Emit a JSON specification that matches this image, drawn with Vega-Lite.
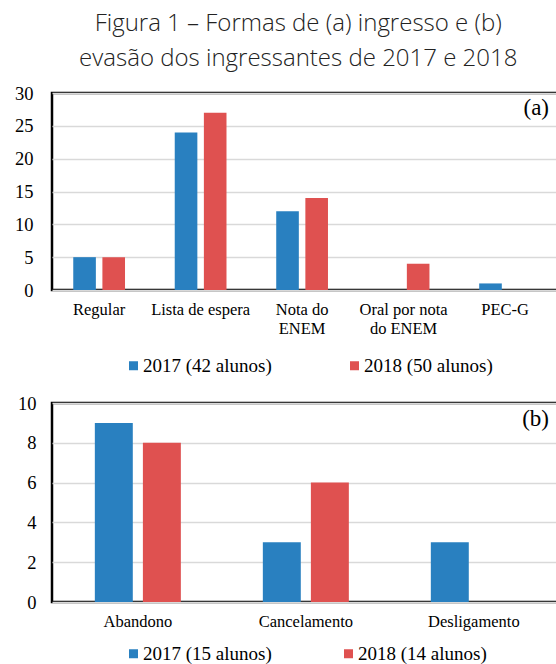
{
  "$schema": "https://vega.github.io/schema/vega-lite/v6.json",
  "background": "white",
  "padding": {"left": 13, "right": 0, "top": 11, "bottom": 0},
  "title": {
    "text": ["Figura 1 – Formas de (a) ingresso e (b)", "evasão dos ingressantes de 2017 e 2018"],
    "font": "Open Sans",
    "fontSize": 24,
    "fontWeight": 300,
    "lineHeight": 35,
    "color": "#222222",
    "anchor": "middle",
    "dx": 12,
    "offset": 12
  },
  "spacing": 14,
  "config": {
    "view": {"stroke": "#000000", "strokeWidth": 2.5},
    "font": "Liberation Serif",
    "axisX": {
      "domain": false,
      "ticks": false,
      "grid": false,
      "labelAngle": 0,
      "labelFont": "Liberation Serif",
      "labelFontSize": 16.5,
      "labelColor": "#000000",
      "labelPadding": 11,
      "labelLineHeight": 19,
      "title": null
    },
    "axisY": {
      "domain": false,
      "ticks": false,
      "grid": true,
      "gridColor": "#d9d9d9",
      "gridWidth": 1.5,
      "labelFont": "Liberation Serif",
      "labelFontSize": 18.5,
      "labelColor": "#000000",
      "title": null
    },
    "legend": {
      "labelFont": "Liberation Serif",
      "labelFontSize": 19,
      "labelColor": "#000000",
      "symbolType": "square",
      "symbolSize": 81,
      "symbolStrokeWidth": 0,
      "symbolOpacity": 1,
      "labelOffset": 0,
      "title": null,
      "orient": "none",
      "direction": "horizontal"
    }
  },
  "resolve": {
    "scale": {"color": "independent", "xOffset": "independent", "x": "independent", "y": "independent"},
    "legend": {"color": "independent"}
  },
  "vconcat": [
    {
      "width": 506,
      "height": 197,
      "data": {
        "values": [
          {"forma": "Regular", "ano": "2017 (42 alunos)", "n": 5},
          {"forma": "Regular", "ano": "2018 (50 alunos)", "n": 5},
          {"forma": "Lista de espera", "ano": "2017 (42 alunos)", "n": 24},
          {"forma": "Lista de espera", "ano": "2018 (50 alunos)", "n": 27},
          {"forma": "Nota do ENEM", "ano": "2017 (42 alunos)", "n": 12},
          {"forma": "Nota do ENEM", "ano": "2018 (50 alunos)", "n": 14},
          {"forma": "Oral por nota do ENEM", "ano": "2017 (42 alunos)", "n": 0},
          {"forma": "Oral por nota do ENEM", "ano": "2018 (50 alunos)", "n": 4},
          {"forma": "PEC-G", "ano": "2017 (42 alunos)", "n": 1},
          {"forma": "PEC-G", "ano": "2018 (50 alunos)", "n": 0}
        ]
      },
      "title": {
        "text": "(a)",
        "orient": "top",
        "anchor": "end",
        "frame": "group",
        "offset": -36,
        "dx": -9,
        "font": "Liberation Serif",
        "fontSize": 23,
        "fontWeight": "normal",
        "color": "#000000"
      },
      "mark": {"type": "bar"},
      "encoding": {
        "x": {
          "field": "forma",
          "type": "nominal",
          "sort": null,
          "scale": {"paddingInner": 0.49, "paddingOuter": 0.238, "align": 0.44},
          "axis": {
            "labelExpr": "datum.label == 'Nota do ENEM' ? ['Nota do', 'ENEM'] : datum.label == 'Oral por nota do ENEM' ? ['Oral por nota', 'do ENEM'] : datum.label"
          }
        },
        "xOffset": {
          "field": "ano",
          "type": "nominal",
          "sort": null,
          "scale": {"paddingInner": 0.224, "paddingOuter": 0}
        },
        "y": {
          "field": "n",
          "type": "quantitative",
          "scale": {"domain": [0, 30]},
          "axis": {"values": [0, 5, 10, 15, 20, 25, 30], "labelPadding": 19}
        },
        "color": {
          "field": "ano",
          "type": "nominal",
          "sort": null,
          "scale": {"domain": ["2017 (42 alunos)", "2018 (50 alunos)"], "range": ["#2980c0", "#df5150"]},
          "legend": {"legendX": 72, "legendY": 263, "columnPadding": 73}
        }
      }
    },
    {
      "width": 506,
      "height": 199,
      "data": {
        "values": [
          {"forma": "Abandono", "ano": "2017 (15 alunos)", "n": 9},
          {"forma": "Abandono", "ano": "2018 (14 alunos)", "n": 8},
          {"forma": "Cancelamento", "ano": "2017 (15 alunos)", "n": 3},
          {"forma": "Cancelamento", "ano": "2018 (14 alunos)", "n": 6},
          {"forma": "Desligamento", "ano": "2017 (15 alunos)", "n": 3},
          {"forma": "Desligamento", "ano": "2018 (14 alunos)", "n": 0}
        ]
      },
      "title": {
        "text": "(b)",
        "orient": "top",
        "anchor": "end",
        "frame": "group",
        "offset": -37,
        "dx": -9,
        "font": "Liberation Serif",
        "fontSize": 23,
        "fontWeight": "normal",
        "color": "#000000"
      },
      "mark": {"type": "bar"},
      "encoding": {
        "x": {
          "field": "forma",
          "type": "nominal",
          "sort": null,
          "scale": {"paddingInner": 0.488, "paddingOuter": 0.25, "align": 0.51},
          "axis": {"labelPadding": 11}
        },
        "xOffset": {
          "field": "ano",
          "type": "nominal",
          "sort": null,
          "scale": {"paddingInner": 0.21, "paddingOuter": 0}
        },
        "y": {
          "field": "n",
          "type": "quantitative",
          "scale": {"domain": [0, 10]},
          "axis": {"values": [0, 2, 4, 6, 8, 10], "labelPadding": 16}
        },
        "color": {
          "field": "ano",
          "type": "nominal",
          "sort": null,
          "scale": {"domain": ["2017 (15 alunos)", "2018 (14 alunos)"], "range": ["#2980c0", "#df5150"]},
          "legend": {"legendX": 72, "legendY": 241, "columnPadding": 67}
        }
      }
    }
  ]
}
